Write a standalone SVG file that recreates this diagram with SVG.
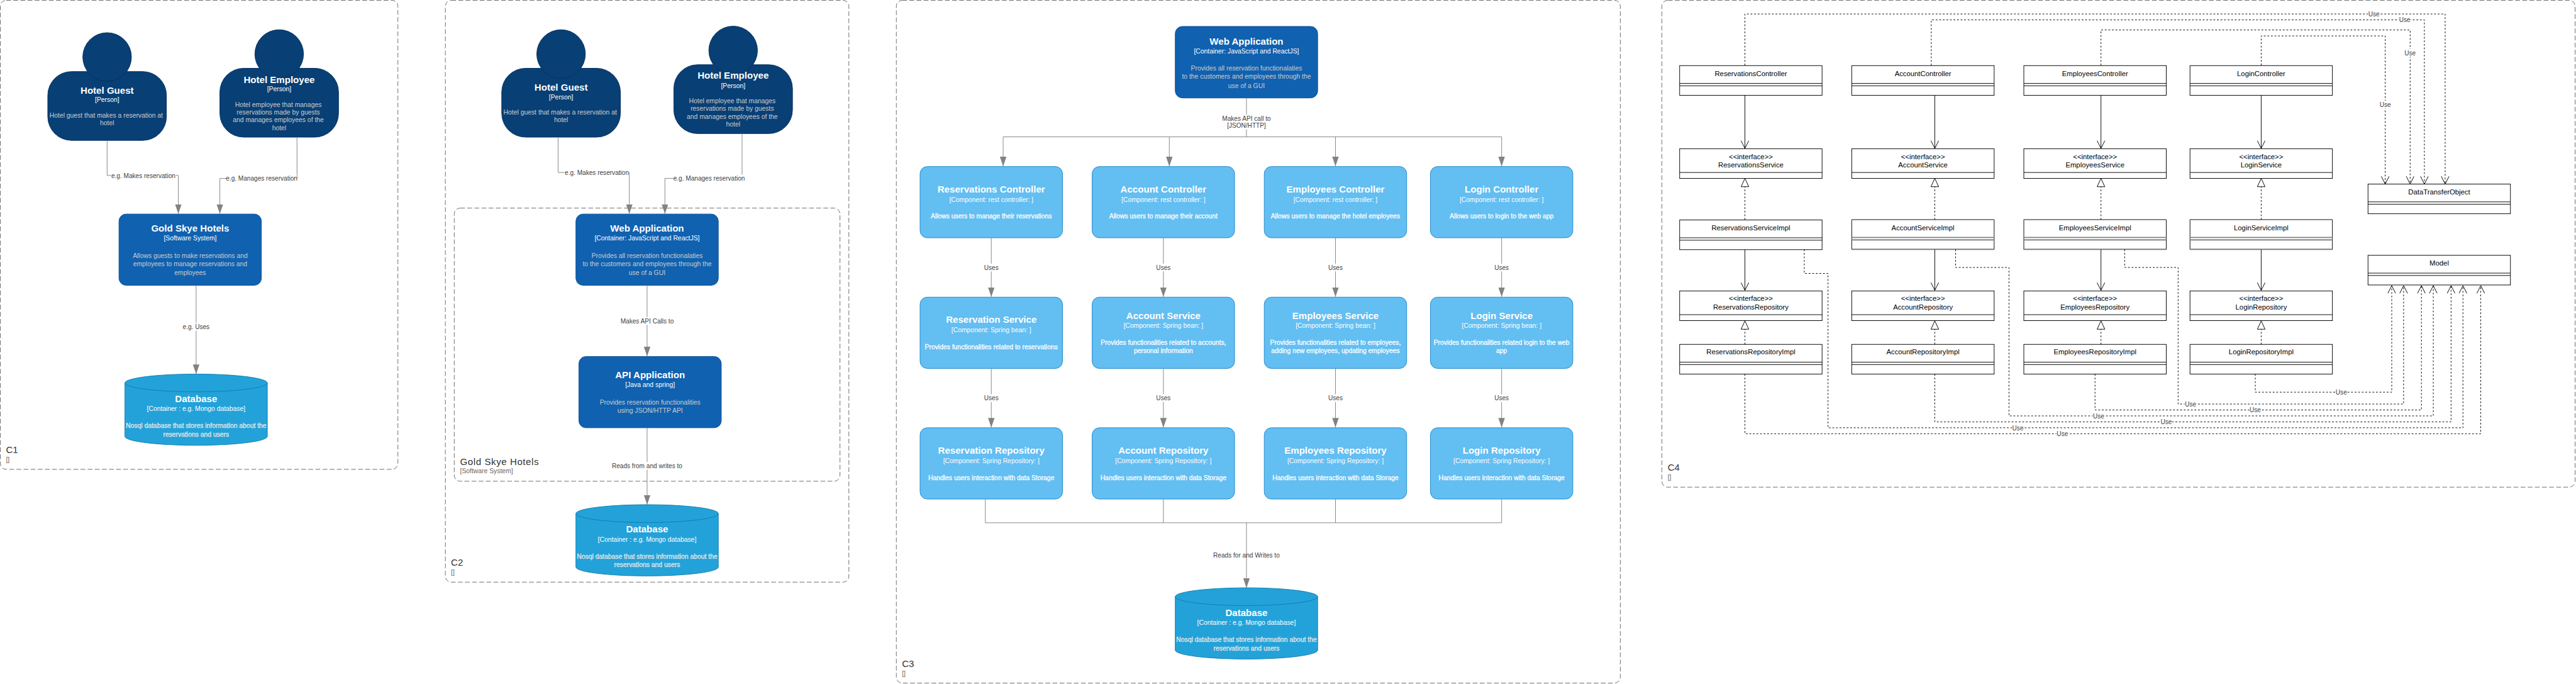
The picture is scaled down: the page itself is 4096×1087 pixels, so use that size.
<svg xmlns="http://www.w3.org/2000/svg" width="4096" height="1087" viewBox="0 0 4096 1087">
<style>
text{font-family:"Liberation Sans",Arial,sans-serif;text-anchor:middle}
.frame{fill:none;stroke:#666;stroke-dasharray:8 4;rx:10px;ry:10px}
.body{fill:#083f75;stroke:#06315c;rx:40px;ry:40px}
.head{fill:#083f75;stroke:#06315c}
.sys{fill:#1061b0;stroke:#0d5091;rx:12px;ry:12px}
.cmp{fill:#63bef2;stroke:#2086c9;rx:12px;ry:12px}
.db{fill:#23a2d9;stroke:#0e7dad}
.nt{font-size:16px;font-weight:bold;fill:#fff}
.ns{font-size:11px;fill:#fff}
.nd{font-size:11px;fill:#ccc}
.nw{font-size:11px;fill:#fff;stroke:#fff;stroke-width:.3px}
.ne{font-size:11px;fill:#e6e6e6;stroke:#e6e6e6;stroke-width:.3px}
.ft{font-size:16px;fill:#333;text-anchor:start}
.fs{font-size:11px;fill:#666;text-anchor:start}
.cl{fill:#fff;stroke:#000}
.gy{stroke:#828282;stroke-width:2;fill:none}
.ct{font-size:12px;fill:#000}
.lb{font-size:10.7px;fill:#404040}
.bg{fill:#fff}
.c{fill:none;stroke:#828282;marker-end:url(#blk)}
.cn{fill:none;stroke:#828282}
.s{fill:none;stroke:#000;marker-end:url(#opn)}
.u{fill:none;stroke:#000;stroke-dasharray:3 3;marker-end:url(#opn)}
.r{fill:none;stroke:#000;stroke-dasharray:3 3;marker-end:url(#tri)}
</style>
<defs>
<marker id="blk" markerUnits="userSpaceOnUse" markerWidth="16" markerHeight="11" refX="16" refY="5.5" orient="auto"><path d="M0 0L16 5.5L0 11Z" fill="#828282"/></marker>
<marker id="opn" markerUnits="userSpaceOnUse" markerWidth="15" markerHeight="15" refX="13.5" refY="7.5" orient="auto" overflow="visible"><path d="M0.5 1L13.5 7.5L0.5 14" fill="none" stroke="#000"/></marker>
<marker id="tri" markerUnits="userSpaceOnUse" markerWidth="16" markerHeight="15" refX="14.5" refY="7.5" orient="auto" overflow="visible"><path d="M0.5 1L14.5 7.5L0.5 14Z" fill="#fff" stroke="#000"/></marker>
<g id="cyl"><path class="db" d="M0 15a120 15 0 0 1 240 0v90a120 15 0 0 1-240 0Z"/><path class="db" style="fill:none" d="M0 15a120 15 0 0 0 240 0"/></g>
<g id="cls"><rect class="cl" width="240" height="50"/><path d="M0 30H240M0 34H240" stroke="#000" fill="none"/></g>
<g id="clg"><rect class="cl" width="240" height="50"/><path class="gy" d="M0 0H240M0 30H240M0 34H240M0 50H240"/></g>
<g id="ifc"><rect class="cl" width="240" height="50"/><path d="M0 40H240" stroke="#000" fill="none"/></g>
</defs>
<g transform="scale(0.94356)">
<g id="frames">
<rect id="frame-c1" class="frame" x="0.5" y="0.5" width="670" height="790"/>
<rect id="frame-c2" class="frame" x="750.5" y="0.5" width="680" height="980"/>
<rect id="frame-gold" class="frame" x="765.5" y="350.5" width="650" height="460"/>
<rect id="frame-c3" class="frame" x="1510.5" y="0.5" width="1220" height="1150"/>
<rect id="frame-c4" class="frame" x="2800.5" y="0.5" width="1539" height="820"/>
<text class="ft" x="10" y="763">C1</text><text class="fs" x="10" y="778">[]</text>
<text class="ft" x="760" y="953">C2</text><text class="fs" x="760" y="968">[]</text>
<text class="ft" x="775.3" y="783" style="letter-spacing:.6px">Gold Skye Hotels</text><text class="fs" x="775.3" y="797">[Software System]</text>
<text class="ft" x="1520" y="1123">C3</text><text class="fs" x="1520" y="1138">[]</text>
<text class="ft" x="2810.3" y="793">C4</text><text class="fs" x="2810.3" y="808">[]</text>
</g>

<g id="c1-guest"><rect class="body" x="80.5" y="120.5" width="200" height="116"/><ellipse class="head" cx="180.5" cy="96" rx="41" ry="41"/>
<text class="nt" x="180.5" y="158">Hotel Guest</text><text class="ns" x="180.5" y="172">[Person]</text><text class="nd" x="179" y="198">Hotel guest that makes a reservation at</text><text class="nd" x="180.5" y="211">hotel</text></g>
<g id="c1-employee"><rect class="body" x="370.5" y="115" width="200" height="116"/><ellipse class="head" cx="470.5" cy="91" rx="41" ry="41"/>
<text class="nt" x="470.5" y="139.5">Hotel Employee</text><text class="ns" x="470.5" y="154">[Person]</text><text class="nd" x="469" y="180">Hotel employee that manages</text><text class="nd" x="469" y="193">reservations made by guests</text><text class="nd" x="469" y="206">and manages employees of the</text><text class="nd" x="470.5" y="219">hotel</text></g>
<g id="c1-system"><rect class="sys" x="200.5" y="360.5" width="240" height="120"/>
<text class="nt" x="320.5" y="390">Gold Skye Hotels</text><text class="ns" x="320.5" y="405">[Software System]</text><text class="nd" x="320.5" y="434">Allows guests to make reservations and</text><text class="nd" x="320.5" y="448">employees to manage reservations and</text><text class="nd" x="320.5" y="463">employees</text></g>
<g id="c1-db"><use href="#cyl" x="210.5" y="630"/>
<text class="nt" x="330.5" y="677">Database</text><text class="ns" x="330.5" y="692">[Container : e.g. Mongo database]</text><text class="ne" x="330.5" y="721">Nosql database that stores information about the</text><text class="ne" x="330.5" y="735">reservations and users</text></g>

<g id="c2-guest"><rect class="body" x="845.5" y="115" width="200" height="116"/><ellipse class="head" cx="945.5" cy="91" rx="41" ry="41"/>
<text class="nt" x="945.5" y="153">Hotel Guest</text><text class="ns" x="945.5" y="167">[Person]</text><text class="nd" x="944" y="193">Hotel guest that makes a reservation at</text><text class="nd" x="945.5" y="206">hotel</text></g>
<g id="c2-employee"><rect class="body" x="1135.5" y="109" width="200" height="116"/><ellipse class="head" cx="1235.5" cy="85" rx="41" ry="41"/>
<text class="nt" x="1235.5" y="133">Hotel Employee</text><text class="ns" x="1235.5" y="148">[Person]</text><text class="nd" x="1234" y="174">Hotel employee that manages</text><text class="nd" x="1234" y="187">reservations made by guests</text><text class="nd" x="1234" y="200">and manages employees of the</text><text class="nd" x="1235.5" y="213">hotel</text></g>
<g id="c2-web"><rect class="sys" x="970.5" y="360.5" width="240" height="120"/>
<text class="nt" x="1090.5" y="390">Web Application</text><text class="ns" x="1090.5" y="405">[Container: JavaScript and ReactJS]</text><text class="nd" x="1090.5" y="434">Provides all reservation functionalaties</text><text class="nd" x="1090.5" y="448">to the customers and employees through the</text><text class="nd" x="1090.5" y="463">use of a GUI</text></g>
<g id="c2-api"><rect class="sys" x="975.5" y="600.5" width="240" height="120"/>
<text class="nt" x="1095.5" y="637">API Application</text><text class="ns" x="1095.5" y="652">[Java and spring]</text><text class="nd" x="1095.5" y="681">Provides reservation functionalities</text><text class="nd" x="1095.5" y="695">using JSON/HTTP API</text></g>
<g id="c2-db"><use href="#cyl" x="970.5" y="850"/>
<text class="nt" x="1090.5" y="897">Database</text><text class="ns" x="1090.5" y="912">[Container : e.g. Mongo database]</text><text class="ne" x="1090.5" y="941">Nosql database that stores information about the</text><text class="ne" x="1090.5" y="955">reservations and users</text></g>

<g id="c3-web"><rect class="sys" x="1980.5" y="44.5" width="240" height="120.5"/>
<text class="nt" x="2100.5" y="75.5">Web Application</text><text class="ns" x="2100.5" y="90">[Container: JavaScript and ReactJS]</text><text class="nd" x="2100.5" y="119">Provides all reservation functionalaties</text><text class="nd" x="2100.5" y="133">to the customers and employees through the</text><text class="nd" x="2100.5" y="148">use of a GUI</text></g>
<g id="c3-res-ctrl"><rect class="cmp" x="1550.5" y="280.5" width="240" height="120"/><text class="nt" x="1670.5" y="324">Reservations Controller</text><text class="ns" x="1670.5" y="340">[Component: rest controller: ]</text><text class="nw" x="1670.5" y="368">Allows users to manage their reservations</text></g>
<g id="c3-acc-ctrl"><rect class="cmp" x="1840.5" y="280.5" width="240" height="120"/><text class="nt" x="1960.5" y="324">Account Controller</text><text class="ns" x="1960.5" y="340">[Component: rest controller: ]</text><text class="nw" x="1960.5" y="368">Allows users to manage their account</text></g>
<g id="c3-emp-ctrl"><rect class="cmp" x="2130.5" y="280.5" width="240" height="120"/><text class="nt" x="2250.5" y="324">Employees Controller</text><text class="ns" x="2250.5" y="340">[Component: rest controller: ]</text><text class="nw" x="2250.5" y="368">Allows users to manage the hotel employees</text></g>
<g id="c3-log-ctrl"><rect class="cmp" x="2410.5" y="280.5" width="240" height="120"/><text class="nt" x="2530.5" y="324">Login Controller</text><text class="ns" x="2530.5" y="340">[Component: rest controller: ]</text><text class="nw" x="2530.5" y="368">Allows users to login to the web app</text></g>
<g id="c3-res-svc"><rect class="cmp" x="1550.5" y="500.5" width="240" height="120"/><text class="nt" x="1670.5" y="544">Reservation Service</text><text class="ns" x="1670.5" y="560">[Component: Spring bean: ]</text><text class="nw" x="1670.5" y="588">Provides functionalities related to reservations</text></g>
<g id="c3-acc-svc"><rect class="cmp" x="1840.5" y="500.5" width="240" height="120"/><text class="nt" x="1960.5" y="537.5">Account Service</text><text class="ns" x="1960.5" y="552">[Component: Spring bean: ]</text><text class="nw" x="1960.5" y="581">Provides functionalities related to accounts,</text><text class="nw" x="1960.5" y="595">personal information</text></g>
<g id="c3-emp-svc"><rect class="cmp" x="2130.5" y="500.5" width="240" height="120"/><text class="nt" x="2250.5" y="537.5">Employees Service</text><text class="ns" x="2250.5" y="552">[Component: Spring bean: ]</text><text class="nw" x="2250.5" y="581">Provides functionalities related to employees,</text><text class="nw" x="2250.5" y="595">adding new employees, updating employees</text></g>
<g id="c3-log-svc"><rect class="cmp" x="2410.5" y="500.5" width="240" height="120"/><text class="nt" x="2530.5" y="537.5">Login Service</text><text class="ns" x="2530.5" y="552">[Component: Spring bean: ]</text><text class="nw" x="2530.5" y="581">Provides functionalities related login to the web</text><text class="nw" x="2530.5" y="595">app</text></g>
<g id="c3-res-repo"><rect class="cmp" x="1550.5" y="720.5" width="240" height="120"/><text class="nt" x="1670.5" y="764.5">Reservation Repository</text><text class="ns" x="1670.5" y="780">[Component: Spring Repository: ]</text><text class="nw" x="1670.5" y="808.5">Handles users interaction with data Storage</text></g>
<g id="c3-acc-repo"><rect class="cmp" x="1840.5" y="720.5" width="240" height="120"/><text class="nt" x="1960.5" y="764.5">Account Repository</text><text class="ns" x="1960.5" y="780">[Component: Spring Repository: ]</text><text class="nw" x="1960.5" y="808.5">Handles users interaction with data Storage</text></g>
<g id="c3-emp-repo"><rect class="cmp" x="2130.5" y="720.5" width="240" height="120"/><text class="nt" x="2250.5" y="764.5">Employees Repository</text><text class="ns" x="2250.5" y="780">[Component: Spring Repository: ]</text><text class="nw" x="2250.5" y="808.5">Handles users interaction with data Storage</text></g>
<g id="c3-log-repo"><rect class="cmp" x="2410.5" y="720.5" width="240" height="120"/><text class="nt" x="2530.5" y="764.5">Login Repository</text><text class="ns" x="2530.5" y="780">[Component: Spring Repository: ]</text><text class="nw" x="2530.5" y="808.5">Handles users interaction with data Storage</text></g>
<g id="c3-db"><use href="#cyl" x="1980.5" y="990"/>
<text class="nt" x="2100.5" y="1037.5">Database</text><text class="ns" x="2100.5" y="1052.5">[Container : e.g. Mongo database]</text><text class="ne" x="2100.5" y="1081">Nosql database that stores information about the</text><text class="ne" x="2100.5" y="1095.5">reservations and users</text></g>

<g id="c4-res-ctrl"><use href="#cls" x="2830.5" y="110.5"/><text class="ct" x="2950.5" y="128">ReservationsController</text></g>
<g id="c4-acc-ctrl"><use href="#cls" x="3120.5" y="110.5"/><text class="ct" x="3240.5" y="128">AccountController</text></g>
<g id="c4-emp-ctrl"><use href="#cls" x="3410.5" y="110.5"/><text class="ct" x="3530.5" y="128">EmployeesController</text></g>
<g id="c4-log-ctrl"><use href="#cls" x="3690.5" y="110.5"/><text class="ct" x="3810.5" y="128">LoginController</text></g>
<g id="c4-res-svc"><use href="#ifc" x="2830.5" y="250.5"/><text class="ct" x="2950.5" y="268">&lt;&lt;interface&gt;&gt;</text><text class="ct" x="2950.5" y="282">ReservationsService</text></g>
<g id="c4-acc-svc"><use href="#ifc" x="3120.5" y="250.5"/><text class="ct" x="3240.5" y="268">&lt;&lt;interface&gt;&gt;</text><text class="ct" x="3240.5" y="282">AccountService</text></g>
<g id="c4-emp-svc"><use href="#ifc" x="3410.5" y="250.5"/><text class="ct" x="3530.5" y="268">&lt;&lt;interface&gt;&gt;</text><text class="ct" x="3530.5" y="282">EmployeesService</text></g>
<g id="c4-log-svc"><use href="#ifc" x="3690.5" y="250.5"/><text class="ct" x="3810.5" y="268">&lt;&lt;interface&gt;&gt;</text><text class="ct" x="3810.5" y="282">LoginService</text></g>
<g id="c4-res-impl"><use href="#cls" x="2830.5" y="370.5"/><text class="ct" x="2950.5" y="388">ReservationsServiceImpl</text></g>
<g id="c4-acc-impl"><use href="#clg" x="3120.5" y="370"/><text class="ct" x="3240.5" y="388">AccountServiceImpl</text></g>
<g id="c4-emp-impl"><use href="#clg" x="3410.5" y="370"/><text class="ct" x="3530.5" y="388">EmployeesServiceImpl</text></g>
<g id="c4-log-impl"><use href="#clg" x="3690.5" y="370"/><text class="ct" x="3810.5" y="388">LoginServiceImpl</text></g>
<g id="c4-res-repo"><use href="#ifc" x="2830.5" y="490"/><text class="ct" x="2950.5" y="507">&lt;&lt;interface&gt;&gt;</text><text class="ct" x="2950.5" y="521">ReservationsRepository</text></g>
<g id="c4-acc-repo"><use href="#ifc" x="3120.5" y="490"/><text class="ct" x="3240.5" y="507">&lt;&lt;interface&gt;&gt;</text><text class="ct" x="3240.5" y="521">AccountRepository</text></g>
<g id="c4-emp-repo"><use href="#ifc" x="3410.5" y="490"/><text class="ct" x="3530.5" y="507">&lt;&lt;interface&gt;&gt;</text><text class="ct" x="3530.5" y="521">EmployeesRepository</text></g>
<g id="c4-log-repo"><use href="#ifc" x="3690.5" y="490"/><text class="ct" x="3810.5" y="507">&lt;&lt;interface&gt;&gt;</text><text class="ct" x="3810.5" y="521">LoginRepository</text></g>
<g id="c4-res-rimpl"><use href="#cls" x="2830.5" y="580"/><text class="ct" x="2950.5" y="597">ReservationsRepositoryImpl</text></g>
<g id="c4-acc-rimpl"><use href="#cls" x="3120.5" y="580"/><text class="ct" x="3240.5" y="597">AccountRepositoryImpl</text></g>
<g id="c4-emp-rimpl"><use href="#cls" x="3410.5" y="580"/><text class="ct" x="3530.5" y="597">EmployeesRepositoryImpl</text></g>
<g id="c4-log-rimpl"><use href="#cls" x="3690.5" y="580"/><text class="ct" x="3810.5" y="597">LoginRepositoryImpl</text></g>
<g id="c4-dto"><use href="#cls" x="3990.5" y="310"/><text class="ct" x="4110.5" y="327">DataTransferObject</text></g>
<g id="c4-model"><use href="#cls" x="3990.5" y="430"/><text class="ct" x="4110.5" y="447">Model</text></g>

<g id="connectors">
<path class="c" d="M180.5 236.5V295.5H300.5V360"/><path class="c" d="M500.5 231V300.5H370.5V360"/><path class="c" d="M330.5 480.5V630"/>
<path class="c" d="M940.5 231V290.5H1060.5V360"/><path class="c" d="M1250.5 225V300.5H1120.5V360"/><path class="c" d="M1090.5 480.5V600"/><path class="c" d="M1090.5 720.5V850"/>
<path class="cn" d="M2100.5 165V230.5"/><path class="c" d="M2100.5 230.5H1690.5V280"/><path class="c" d="M1970.5 230.5V280"/><path class="c" d="M2100.5 230.5H2530.5V280"/><path class="c" d="M2250.5 230.5V280"/>
<path class="c" d="M1670.5 400.5V500"/><path class="c" d="M1960.5 400.5V500"/><path class="c" d="M2250.5 400.5V500"/><path class="c" d="M2530.5 400.5V500"/>
<path class="c" d="M1670.5 620.5V720"/><path class="c" d="M1960.5 620.5V720"/><path class="c" d="M2250.5 620.5V720"/><path class="c" d="M2530.5 620.5V720"/>
<path class="cn" d="M1660.5 840.5V880.5H2530.5V840.5M1960.5 840.5V880.5M2250.5 840.5V880.5"/><path class="c" d="M2100.5 880.5V990"/>

<path class="s" d="M2940.5 160.5V250"/><path class="s" d="M3260.5 160.5V250"/><path class="s" d="M3540.5 160.5V250"/><path class="s" d="M3810.5 160.5V250"/>
<path class="r" d="M2940.5 370V300.5"/><path class="r" d="M3260.5 370V300.5"/><path class="r" d="M3540.5 370V300.5"/><path class="r" d="M3810.5 370V300.5"/>
<path class="s" d="M2940.5 420.5V489"/><path class="s" d="M3260.5 420.5V489"/><path class="s" d="M3540.5 420.5V489"/><path class="s" d="M3810.5 420.5V489"/>
<path class="r" d="M2940.5 580V540.5"/><path class="r" d="M3260.5 580V540.5"/><path class="r" d="M3540.5 580V540.5"/><path class="r" d="M3810.5 580V540.5"/>

<path class="u" d="M2940.5 110V23.5H4120.5V310"/><path class="u" d="M3254.5 110V33.5H4085.5V310"/><path class="u" d="M3540.5 110V50.5H4061.5V310"/><path class="u" d="M3810.5 110V60.5H4019.5V310"/>
<path class="u" d="M3800.5 630V660.5H4030.5V481"/><path class="u" d="M3580.5 420V450.5H3670.5V680.5H4050.5V481"/><path class="u" d="M3530.5 630V690.5H4080.5V481"/><path class="u" d="M3295.5 420V450.5H3385.5V700.5H4100.5V481"/><path class="u" d="M3260.5 630V710.5H4130.5V481"/><path class="u" d="M3040.5 420V460.5H3080.5V720.5H4150.5V481"/><path class="u" d="M2940.5 630V730.5H4180.5V481"/>

<g id="connector-labels">
<rect class="bg" x="187" y="289" width="109" height="13"/><text class="lb" x="241.5" y="299.5">e.g. Makes reservation</text>
<rect class="bg" x="382" y="294" width="118" height="13"/><text class="lb" x="441" y="304.5">e.g. Manages reservation</text>
<rect class="bg" x="308" y="544" width="45" height="13"/><text class="lb" x="330.5" y="554.5">e.g. Uses</text>
<rect class="bg" x="951" y="284" width="109" height="13"/><text class="lb" x="1005.8" y="294.5">e.g. Makes reservation</text>
<rect class="bg" x="1135.5" y="294" width="119" height="13"/><text class="lb" x="1195" y="304.5">e.g. Manages reservation</text>
<rect class="bg" x="1045" y="534" width="91" height="13"/><text class="lb" x="1090.5" y="544.5">Makes API Calls to</text>
<rect class="bg" x="1031" y="778" width="119" height="13"/><text class="lb" x="1090.5" y="788.5">Reads from and writes to</text>
<rect class="bg" x="2059" y="193" width="83" height="25"/><text class="lb" x="2100.5" y="203.5">Makes API call to</text><text class="lb" x="2100.5" y="215.5">[JSON/HTTP]</text>
<rect class="bg" x="1658" y="444" width="25" height="13"/><text class="lb" x="1670.5" y="454.5">Uses</text>
<rect class="bg" x="1948" y="444" width="25" height="13"/><text class="lb" x="1960.5" y="454.5">Uses</text>
<rect class="bg" x="2238" y="444" width="25" height="13"/><text class="lb" x="2250.5" y="454.5">Uses</text>
<rect class="bg" x="2518" y="444" width="25" height="13"/><text class="lb" x="2530.5" y="454.5">Uses</text>
<rect class="bg" x="1658" y="664" width="25" height="13"/><text class="lb" x="1670.5" y="674.5">Uses</text>
<rect class="bg" x="1948" y="664" width="25" height="13"/><text class="lb" x="1960.5" y="674.5">Uses</text>
<rect class="bg" x="2238" y="664" width="25" height="13"/><text class="lb" x="2250.5" y="674.5">Uses</text>
<rect class="bg" x="2518" y="664" width="25" height="13"/><text class="lb" x="2530.5" y="674.5">Uses</text>
<text class="lb" x="2100.5" y="939.5">Reads for and Writes to</text>
<rect class="bg" x="3990.5" y="17" width="20" height="13"/><text class="lb" x="4000.5" y="27.5">Use</text>
<rect class="bg" x="4042.5" y="27" width="20" height="13"/><text class="lb" x="4052.5" y="37.5">Use</text>
<rect class="bg" x="4051.5" y="82.5" width="20" height="13"/><text class="lb" x="4061.5" y="93">Use</text>
<rect class="bg" x="4009.5" y="169.5" width="20" height="13"/><text class="lb" x="4019.5" y="180">Use</text>
<rect class="bg" x="3935.5" y="654" width="20" height="13"/><text class="lb" x="3945.5" y="664.5">Use</text>
<rect class="bg" x="3681.5" y="674" width="20" height="13"/><text class="lb" x="3691.5" y="684.5">Use</text>
<rect class="bg" x="3790.5" y="684" width="20" height="13"/><text class="lb" x="3800.5" y="694.5">Use</text>
<rect class="bg" x="3526.5" y="694" width="20" height="13"/><text class="lb" x="3536.5" y="704.5">Use</text>
<rect class="bg" x="3640.5" y="704" width="20" height="13"/><text class="lb" x="3650.5" y="714.5">Use</text>
<rect class="bg" x="3390.5" y="714" width="20" height="13"/><text class="lb" x="3400.5" y="724.5">Use</text>
<rect class="bg" x="3465.5" y="724" width="20" height="13"/><text class="lb" x="3475.5" y="734.5">Use</text>
</g>
</g>
</g>
</svg>
